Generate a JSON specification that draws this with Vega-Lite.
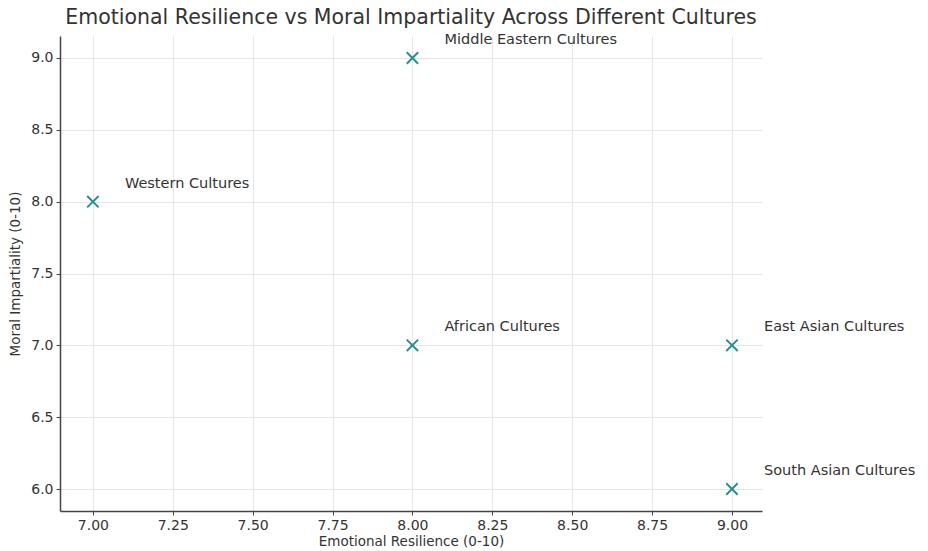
{
  "$schema": "https://vega.github.io/schema/vega-lite/v6.json",
  "width": 702,
  "height": 475,
  "autosize": {"type": "none"},
  "padding": {"left": 60, "top": 36, "right": 166, "bottom": 40},
  "background": "white",
  "title": {
    "text": "Emotional Resilience vs Moral Impartiality Across Different Cultures",
    "font": "DejaVu Sans",
    "fontSize": 20.5,
    "fontWeight": "normal",
    "color": "#333333",
    "anchor": "middle",
    "offset": 3
  },
  "data": {
    "values": [
      {"culture": "Western Cultures", "resilience": 7, "impartiality": 8},
      {"culture": "East Asian Cultures", "resilience": 9, "impartiality": 7},
      {"culture": "South Asian Cultures", "resilience": 9, "impartiality": 6},
      {"culture": "African Cultures", "resilience": 8, "impartiality": 7},
      {"culture": "Middle Eastern Cultures", "resilience": 8, "impartiality": 9}
    ]
  },
  "encoding": {
    "x": {
      "field": "resilience",
      "type": "quantitative",
      "scale": {"domain": [6.897, 9.094], "nice": false, "zero": false},
      "axis": {
        "title": "Emotional Resilience (0-10)",
        "values": [7, 7.25, 7.5, 7.75, 8, 8.25, 8.5, 8.75, 9],
        "format": ".2f"
      }
    },
    "y": {
      "field": "impartiality",
      "type": "quantitative",
      "scale": {"domain": [5.847, 9.153], "nice": false, "zero": false},
      "axis": {
        "title": "Moral Impartiality (0-10)",
        "values": [6, 6.5, 7, 7.5, 8, 8.5, 9],
        "format": ".1f"
      }
    }
  },
  "layer": [
    {
      "mark": {
        "type": "point",
        "shape": "M-1,-1L1,1M1,-1L-1,1",
        "filled": false,
        "stroke": "#2a8f8f",
        "strokeWidth": 2,
        "size": 130,
        "opacity": 1
      }
    },
    {
      "mark": {
        "type": "text",
        "align": "left",
        "baseline": "alphabetic",
        "dx": 32,
        "dy": -14,
        "font": "DejaVu Sans",
        "fontSize": 14.5,
        "color": "#333333"
      },
      "encoding": {"text": {"field": "culture"}}
    }
  ],
  "config": {
    "view": {"stroke": null},
    "axis": {
      "labelFont": "DejaVu Sans",
      "titleFont": "DejaVu Sans",
      "labelFontSize": 14,
      "titleFontSize": 13.5,
      "titleFontWeight": "normal",
      "labelColor": "#333333",
      "titleColor": "#333333",
      "domainColor": "#444444",
      "domainWidth": 1.5,
      "tickColor": "#444444",
      "tickSize": 4,
      "grid": true,
      "gridColor": "#e6e6e6",
      "gridWidth": 1,
      "labelPadding": 3
    },
    "axisX": {"titlePadding": 2},
    "axisY": {"titlePadding": 8}
  }
}
